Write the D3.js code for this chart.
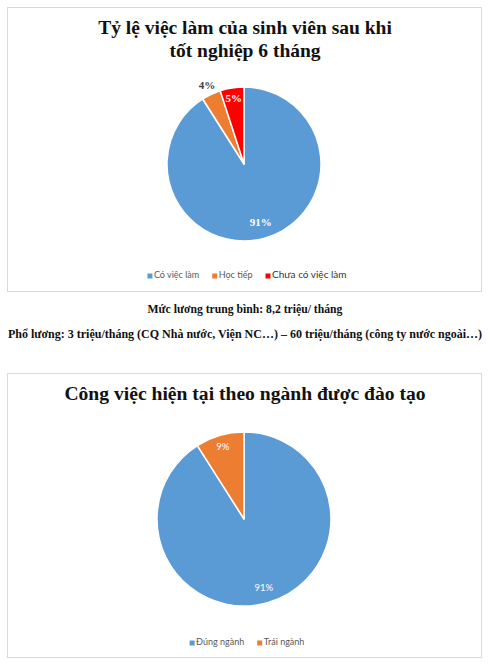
<!DOCTYPE html>
<html>
<head>
<meta charset="utf-8">
<script src="https://cdn.jsdelivr.net/npm/d3@7"></script>
<style>
  body { margin: 0; background: #fff; }
  svg { display: block; }
</style>
</head>
<body>
<svg id="chart" width="490" height="665"></svg>
<script>
// Chart data
const employLabels = ["Có việc làm", "Học tiếp", "Chưa có việc làm"];
const employValues = [91, 4, 5];
const fieldLabels = ["Đúng ngành", "Trái ngành"];
const fieldValues = [91, 9];
const salaryLines = [
    "Mức lương trung bình: 8,2 triệu/ tháng",
    "Phổ lương: 3 triệu/tháng (CQ Nhà nước, Viện NC…) – 60 triệu/tháng (công ty nước ngoài…)"
];

const svg = d3.select("#chart");
const serif = "'Liberation Serif', 'Times New Roman', serif";
const sans = "Lato, 'Noto Sans', sans-serif";

function drawPanel(cfg) {
    const g = svg.append("g");

    // Frame
    g.append("rect")
        .attr("x", cfg.box[0]).attr("y", cfg.box[1])
        .attr("width", cfg.box[2]).attr("height", cfg.box[3])
        .attr("fill", "#fff")
        .attr("stroke", "#d9d9d9")
        .attr("stroke-width", 1);

    // Title
    cfg.title.forEach((t, i) => {
        g.append("text")
            .attr("x", 245)
            .attr("y", cfg.titleY + i * cfg.titleStep)
            .attr("text-anchor", "middle")
            .style("font-family", serif)
            .style("font-weight", "bold")
            .style("font-size", cfg.titleSize + "px")
            .attr("fill", "#111")
            .text(t);
    });

    const data = cfg.labels.map((l, i) => ({label: l, value: cfg.values[i]}));
    const color = d3.scaleOrdinal().domain(cfg.labels).range(cfg.colors);

    const pie = d3.pie().value(d => d.value).sort(null);
    const arc = d3.arc().innerRadius(0).outerRadius(cfg.r);
    const arcs = pie(data);

    const pg = g.append("g").attr("transform", `translate(${cfg.cx},${cfg.cy})`);
    pg.selectAll("path")
        .data(arcs)
        .enter().append("path")
        .attr("d", arc)
        .attr("fill", d => color(d.data.label))
        .attr("stroke", "#fff")
        .attr("stroke-width", 1.5)
        .attr("stroke-linejoin", "round");

    // Data labels
    pg.selectAll("text")
        .data(arcs)
        .enter().append("text")
        .attr("transform", (d, i) => {
            const rr = cfg.r * cfg.labelR[i];
            const lab = d3.arc().innerRadius(rr).outerRadius(rr);
            return `translate(${lab.centroid(d)})`;
        })
        .attr("text-anchor", "middle")
        .attr("dy", "0.35em")
        .style("font-family", cfg.labelFont)
        .style("font-weight", cfg.labelWeight)
        .style("font-size", cfg.labelSize + "px")
        .attr("fill", (d, i) => cfg.labelColor[i])
        .text(d => d.data.value + "%");

    // Legend
    const lg = g.append("g");
    const items = lg.selectAll("g")
        .data(cfg.labels)
        .enter().append("g");
    items.append("rect")
        .attr("width", 5).attr("height", 5)
        .attr("y", -4.5)
        .attr("fill", d => color(d));
    items.append("text")
        .attr("x", 6.5)
        .style("font-family", sans)
        .style("font-size", (d, i) => cfg.legendSize[i] + "px")
        .attr("fill", (d, i) => cfg.legendColor[i])
        .text(d => d);

    let x = 0;
    items.each(function() {
        const w = d3.select(this).select("text").node().getComputedTextLength();
        d3.select(this).attr("transform", `translate(${x},0)`);
        x += 6.5 + w + 13;
    });
    const total = x - 13;
    lg.attr("transform", `translate(${cfg.legendCx - total / 2},${cfg.legendY})`);
}

drawPanel({
    box: [7.5, 7.5, 474, 284],
    title: ["Tỷ lệ việc làm của sinh viên sau khi", "tốt nghiệp 6 tháng"],
    titleY: 34, titleStep: 23, titleSize: 19.5,
    labels: employLabels, values: employValues,
    colors: ["#5b9bd5", "#ed7d31", "#ff0000"],
    cx: 244, cy: 164, r: 77,
    labelR: [0.78, 1.13, 0.86],
    labelFont: serif, labelWeight: "bold", labelSize: 11,
    labelColor: ["#fff", "#404040", "#fff"],
    legendCx: 247, legendY: 278,
    legendSize: [9, 9, 10],
    legendColor: ["#595959", "#595959", "#333"]
});

drawPanel({
    box: [7.5, 373.5, 474, 284],
    title: ["Công việc hiện tại theo ngành được đào tạo"],
    titleY: 400, titleStep: 0, titleSize: 19.6,
    labels: fieldLabels, values: fieldValues,
    colors: ["#5b9bd5", "#ed7d31"],
    cx: 244, cy: 519, r: 87,
    labelR: [0.82, 0.87],
    labelFont: sans, labelWeight: "normal", labelSize: 9.5,
    labelColor: ["#fff", "#fff"],
    legendCx: 247, legendY: 645,
    legendSize: [9, 9],
    legendColor: ["#595959", "#595959"]
});

// Salary notes between the panels
svg.selectAll("text.note")
    .data(salaryLines)
    .enter().append("text")
    .attr("class", "note")
    .attr("x", 245)
    .attr("y", (d, i) => 313 + i * 25)
    .attr("text-anchor", "middle")
    .style("font-family", serif)
    .style("font-weight", "bold")
    .style("font-size", (d, i) => i === 0 ? "11.7px" : "12px")
    .attr("fill", "#111")
    .text(d => d);
</script>
</body>
</html>
